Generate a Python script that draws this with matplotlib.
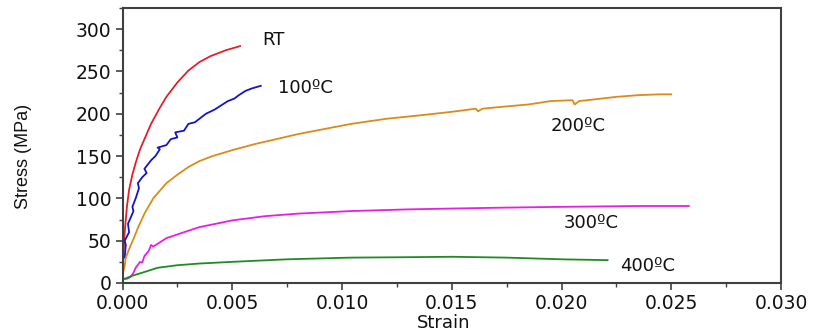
import matplotlib
matplotlib.use("Agg")
import matplotlib.pyplot as plt
import matplotlib.ticker as mticker

# ── stress-strain curves (strain, stress MPa) ──
rt_strain = [0, 0.00003, 0.0001, 0.0002, 0.0003, 0.00045, 0.0006, 0.0008, 0.001,
             0.0013, 0.0017, 0.002, 0.0025, 0.003, 0.0035, 0.004, 0.0047, 0.00536]
rt_stress = [0, 30, 60, 90, 110, 128, 142, 158, 170, 188, 207, 220, 237, 251, 261,
             268, 275, 280]

t100_strain = [0.0001, 0.00015, 0.0001, 0.0003, 0.00025, 0.0005, 0.00045, 0.0006,
               0.00075, 0.0007, 0.0009, 0.0011, 0.001, 0.0013, 0.0015, 0.0017, 0.0016,
               0.002, 0.0022, 0.0025, 0.0024, 0.0028, 0.003, 0.0033, 0.0036, 0.0038,
               0.0042, 0.0045, 0.0048, 0.0051, 0.0053, 0.0056, 0.0059, 0.0063]
t100_stress = [30, 45, 50, 60, 70, 85, 90, 100, 112, 118, 125, 130, 135, 145, 150,
               158, 160, 163, 170, 172, 178, 180, 188, 190, 196, 200, 205, 210, 215,
               218, 222, 227, 230, 233]

t200_strain = [0, 0.0001, 0.00015, 0.0003, 0.0005, 0.0007, 0.001, 0.0014, 0.002,
               0.0025, 0.003, 0.0035, 0.0041, 0.005, 0.006, 0.007, 0.008, 0.009, 0.0104,
               0.012, 0.0135, 0.0149, 0.0155, 0.0161, 0.0162, 0.0164, 0.0172, 0.0185,
               0.0195, 0.0205, 0.0206, 0.0208, 0.0215, 0.0225, 0.0235, 0.0245, 0.025]
t200_stress = [10, 20, 30, 40, 52, 65, 82, 100, 118, 128, 137, 144, 150, 157, 164,
               170, 176, 181, 188, 194, 198, 202, 204, 206, 203, 206, 208, 211, 215,
               216, 211, 215, 217, 220, 222, 223, 223]

t300_strain = [0.0001, 0.0002, 0.00036, 0.0005, 0.0006, 0.0008, 0.0009, 0.001, 0.0012,
               0.0013, 0.0014, 0.0017, 0.002, 0.0028, 0.0035, 0.005, 0.0065, 0.008,
               0.0104, 0.013, 0.015, 0.0172, 0.02, 0.0235, 0.0258]
t300_stress = [5, 5, 7, 12, 18, 25, 24, 32, 38, 45, 43, 48, 53, 60, 66, 74, 79, 82,
               85, 87, 88, 89, 90, 91, 91]

t400_strain = [0.0001, 0.0003, 0.0005, 0.001, 0.0016, 0.0025, 0.0035, 0.005, 0.0075,
               0.0104, 0.013, 0.015, 0.0175, 0.02, 0.0221]
t400_stress = [5, 7, 9, 13, 18, 21, 23, 25, 28, 30, 30.5, 31, 30, 28, 27]

labels = ["RT", "100ºC", "200ºC", "300ºC", "400ºC"]
label_x = [0.00636, 0.0071, 0.0195, 0.0201, 0.02268]
label_y = [287, 230, 185, 71, 20]

curves = [
    (rt_strain, rt_stress, "#e0202a"),
    (t100_strain, t100_stress, "#1414c8"),
    (t200_strain, t200_stress, "#dc8a1c"),
    (t300_strain, t300_stress, "#e61ee6"),
    (t400_strain, t400_stress, "#1e8c23"),
]

fig = plt.figure(figsize=(8.16, 3.34), dpi=100)
ax = fig.add_axes([122.5 / 816, 51 / 334, (781 - 122.5) / 816, (283 - 8) / 334])

for xs, ys, col in curves:
    ax.plot(xs, ys, color=col, linewidth=1.3)

for lab, lx, ly in zip(labels, label_x, label_y):
    ax.text(lx, ly, lab, ha="left", va="center", fontsize=13,
            family="DejaVu Sans", color="#111111")

ax.set_xlim(0, 0.030)
ax.set_ylim(0, 325)
ax.xaxis.set_major_locator(mticker.MultipleLocator(0.005))
ax.xaxis.set_minor_locator(mticker.MultipleLocator(0.0025))
ax.yaxis.set_major_locator(mticker.MultipleLocator(50))
ax.yaxis.set_minor_locator(mticker.MultipleLocator(25))
ax.xaxis.set_major_formatter(mticker.FormatStrFormatter("%.3f"))

ax.tick_params(which="major", direction="out", length=5, width=1.2,
               color="#404040", labelsize=13.5, pad=3)
ax.tick_params(which="minor", direction="out", length=3, width=1.0, color="#404040")
for lab in ax.get_xticklabels() + ax.get_yticklabels():
    lab.set_family("DejaVu Sans")
    lab.set_color("#111111")

for sp in ax.spines.values():
    sp.set_color("#404040")
    sp.set_linewidth(1.5)

ax.set_xlabel("Strain", fontsize=13, family="DejaVu Sans", color="#111111")
ax.xaxis.set_label_coords(0.488, -0.112)
ax.set_ylabel("Stress (MPa)", fontsize=13, family="Liberation Sans", color="#111111")
ax.yaxis.set_label_coords(-0.138, 0.46)

fig.savefig("out.png", dpi=100)
